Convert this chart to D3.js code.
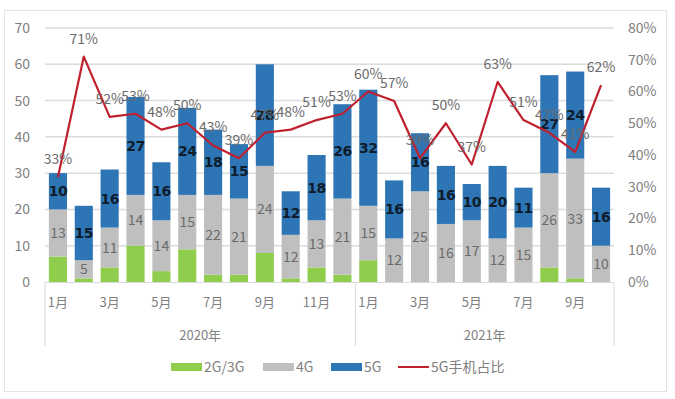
<!DOCTYPE html>
<html>
<head>
<meta charset="utf-8">
<script src="https://cdn.jsdelivr.net/npm/d3@7"></script>
<style>
  body { margin: 0; background: #fff; }
  text { font-family: "Noto Sans CJK SC", "Open Sans", sans-serif; }
</style>
</head>
<body>
<div id="chart"></div>
<script>
// months per year group
const years = ['2020年', '2021年'];
const months = [
  '1月','2月','3月','4月','5月','6月','7月','8月','9月','10月','11月','12月',
  '1月','2月','3月','4月','5月','6月','7月','8月','9月','10月'
];
const yearOf = [0,0,0,0,0,0,0,0,0,0,0,0, 1,1,1,1,1,1,1,1,1,1];

// shipments (millions) by network
const g23 = [7, 1, 4, 10, 3, 9, 2, 2, 8, 1, 4, 2, 6, 0, 0, 0, 0, 0, 0, 4, 1, 0];
const g4 = [13, 5, 11, 14, 14, 15, 22, 21, 24, 12, 13, 21, 15, 12, 25, 16, 17, 12, 15, 26, 33, 10];
const g5 = [10, 15, 16, 27, 16, 24, 18, 15, 28, 12, 18, 26, 32, 16, 16, 16, 10, 20, 11, 27, 24, 16];
// 5G share
const share = [33, 71, 52, 53, 48, 50, 43, 39, 47, 48, 51, 53, 60, 57, 39, 50, 37, 63, 51, 47, 41, 62];

const leftTicks = [0, 10, 20, 30, 40, 50, 60, 70];
const rightTicks = [0, 10, 20, 30, 40, 50, 60, 70, 80];

const colors = { g23: '#8fcd4c', g4: '#bfbfbf', g5: '#2e75b6', line: '#c0202e' };

const W = 675, H = 399;
const margin = { top: 28, left: 45, right: 61, bottom: 117 };
const plotW = W - margin.left - margin.right;
const plotH = H - margin.top - margin.bottom;

const svg = d3.select('#chart').append('svg').attr('width', W).attr('height', H);

// outer frame
svg.append('rect')
  .attr('x', 4.5).attr('y', 10.5).attr('width', 662).attr('height', 381)
  .attr('fill', 'none').attr('stroke', '#e3e3e3').attr('stroke-width', 1);

const chart = svg.append('g').attr('transform', `translate(${margin.left},${margin.top})`);

const data = months.map((m, i) => ({ i, m, g23: g23[i], g4: g4[i], g5: g5[i], share: share[i] }));

const x = d3.scaleBand().domain(d3.range(months.length)).range([0, plotW]).paddingInner(0.3).paddingOuter(0.15);
const y = d3.scaleLinear().domain([0, 70]).range([plotH, 0]);
const y2 = d3.scaleLinear().domain([0, 80]).range([plotH, 0]);

// gridlines
chart.append('g')
  .selectAll('line')
  .data(leftTicks.slice(1))
  .enter()
  .append('line')
  .attr('x1', 0).attr('x2', plotW)
  .attr('y1', d => y(d)).attr('y2', d => y(d))
  .attr('stroke', '#dcdcdc').attr('stroke-width', 1.5);

// left axis labels
chart.append('g')
  .call(d3.axisLeft(y).tickValues(leftTicks).tickSize(0).tickPadding(15))
  .call(g => g.select('.domain').remove())
  .call(g => g.selectAll('text')
    .attr('font-size', 14).attr('fill', '#808080')
    .style('font-family', '"Noto Sans CJK SC", sans-serif'));

// right axis labels
chart.append('g')
  .attr('transform', `translate(${plotW},0)`)
  .call(d3.axisRight(y2).tickValues(rightTicks).tickSize(0).tickPadding(14).tickFormat(d => d + '%'))
  .call(g => g.select('.domain').remove())
  .call(g => g.selectAll('text')
    .attr('font-size', 14).attr('fill', '#808080')
    .style('font-family', '"Noto Sans CJK SC", sans-serif'));

// stacked bars
const stack = d3.stack().keys(['g23', 'g4', 'g5']);
const layers = stack(data);

chart.selectAll('.series')
  .data(layers)
  .enter()
  .append('g')
  .attr('class', 'series')
  .attr('fill', d => colors[d.key])
  .selectAll('rect')
  .data(d => d)
  .enter()
  .append('rect')
  .attr('x', d => x(d.data.i))
  .attr('width', x.bandwidth())
  .attr('y', d => y(d[1]))
  .attr('height', d => y(d[0]) - y(d[1]));

// segment labels for 4G and 5G
layers.filter(l => l.key !== 'g23').forEach(layer => {
  chart.append('g')
    .selectAll('text')
    .data(layer)
    .enter()
    .append('text')
    .attr('x', d => x(d.data.i) + x.bandwidth() / 2)
    .attr('y', d => (y(d[0]) + y(d[1])) / 2)
    .attr('dy', '0.36em')
    .attr('text-anchor', 'middle')
    .attr('font-size', 14)
    .attr('font-weight', layer.key === 'g5' ? 'bold' : 'normal')
    .attr('fill', layer.key === 'g5' ? '#0f1c2b' : '#6b6b6b')
    .style('font-family', layer.key === 'g5' ? '"DejaVu Sans", sans-serif' : '"Noto Sans CJK SC", sans-serif')
    .attr('letter-spacing', layer.key === 'g5' ? '-0.5' : '0')
    .text(d => d.data[layer.key]);
});

// x axis base line
chart.append('line')
  .attr('x1', 0).attr('x2', plotW).attr('y1', plotH + 0.5).attr('y2', plotH + 0.5)
  .attr('stroke', '#d9d9d9').attr('stroke-width', 1);

// group separators
const sepX = [0, x(12) - x.step() * x.paddingInner() / 2, plotW];
chart.append('g')
  .selectAll('line')
  .data(sepX)
  .enter()
  .append('line')
  .attr('x1', d => d).attr('x2', d => d)
  .attr('y1', plotH).attr('y2', plotH + 64)
  .attr('stroke', '#d9d9d9').attr('stroke-width', 1);

// month labels (every other month)
chart.append('g')
  .selectAll('text')
  .data(data.filter(d => d.i % 2 === 0))
  .enter()
  .append('text')
  .attr('x', d => x(d.i) + x.bandwidth() / 2)
  .attr('y', plotH + 25)
  .attr('text-anchor', 'middle')
  .attr('font-size', 13)
  .attr('fill', '#808080')
  .text(d => d.m);

// year labels
chart.append('g')
  .selectAll('text')
  .data(years)
  .enter()
  .append('text')
  .attr('x', (d, k) => (sepX[k] + sepX[k + 1]) / 2)
  .attr('y', plotH + 58)
  .attr('text-anchor', 'middle')
  .attr('font-size', 13)
  .attr('fill', '#808080')
  .text(d => d);

// share line
const line = d3.line()
  .x(d => x(d.i) + x.bandwidth() / 2)
  .y(d => y2(d.share));

chart.append('path')
  .datum(data)
  .attr('fill', 'none')
  .attr('stroke', colors.line)
  .attr('stroke-width', 2.2)
  .attr('stroke-linejoin', 'round')
  .attr('d', line);

chart.append('g')
  .selectAll('text')
  .data(data)
  .enter()
  .append('text')
  .attr('x', d => x(d.i) + x.bandwidth() / 2)
  .attr('y', d => y2(d.share) - 13)
  .attr('text-anchor', 'middle')
  .attr('font-size', 14)
  .attr('fill', '#6b6b6b')
  .text(d => d.share + '%');

// legend
const legend = svg.append('g').attr('transform', 'translate(0,367)');
const items = [
  { name: '2G/3G', key: 'g23', x: 171 },
  { name: '4G', key: 'g4', x: 263 },
  { name: '5G', key: 'g5', x: 331 },
  { name: '5G手机占比', key: 'line', x: 398 }
];
items.forEach(it => {
  if (it.key === 'line') {
    legend.append('line')
      .attr('x1', it.x).attr('x2', it.x + 31).attr('y1', 0).attr('y2', 0)
      .attr('stroke', colors.line).attr('stroke-width', 2);
  } else {
    legend.append('rect')
      .attr('x', it.x).attr('y', -4).attr('width', 31).attr('height', 8)
      .attr('fill', colors[it.key]);
  }
  legend.append('text')
    .attr('x', it.x + 33).attr('y', 0).attr('dy', '0.35em')
    .attr('font-size', 14).attr('fill', '#808080')
    .text(it.name);
});
</script>
</body>
</html>
